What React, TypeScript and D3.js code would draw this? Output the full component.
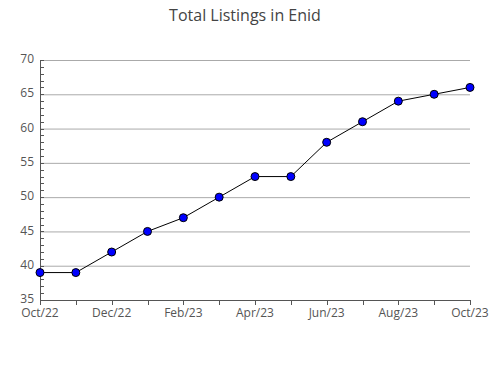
import React from "react";
import * as d3 from "d3";

const months = ["Oct/22","Nov/22","Dec/22","Jan/23","Feb/23","Mar/23","Apr/23","May/23","Jun/23","Jul/23","Aug/23","Sep/23","Oct/23"];
const listings = [39, 39, 42, 45, 47, 50, 53, 53, 58, 61, 64, 65, 66];
const yTicks = [35, 40, 45, 50, 55, 60, 65, 70];
const xLabelIdx = [0, 2, 4, 6, 8, 10, 12];

export default function App() {
  const W = 490, H = 380;
  const left = 40, right = 470, top = 60, bottom = 300;
  const x = d3.scaleLinear().domain([0, months.length - 1]).range([left, right]);
  const y = d3.scaleLinear().domain([35, 70]).range([bottom, top]);
  const line = d3.line<number>().x((_, i) => x(i)).y(d => y(d));
  const minor = d3.range(35, 71, 1);
  const font = "'Open Sans', 'Noto Sans', sans-serif";
  return (
    <svg width={W} height={H} style={{ position: "absolute", left: 0, top: 0 }}>
      <rect width={W} height={H} fill="#fff" />
      <text x={245} y={21} textAnchor="middle" fontFamily={font} fontSize={16} fill="#444">Total Listings in Enid</text>
      {yTicks.map(t => (
        <line key={"g" + t} x1={left} x2={right} y1={y(t) + 0.5} y2={y(t) + 0.5} stroke="#aaa" strokeWidth={1} />
      ))}
      {minor.map(t => (
        <line key={"m" + t} x1={left} x2={left + 4} y1={Math.round(y(t)) + 0.5} y2={Math.round(y(t)) + 0.5} stroke="#555" strokeWidth={1} />
      ))}
      <line x1={left + 0.5} x2={left + 0.5} y1={top} y2={bottom} stroke="#555" />
      <line x1={left} x2={right} y1={bottom + 0.5} y2={bottom + 0.5} stroke="#555" />
      {months.map((m, i) => (
        <line key={"xt" + i} x1={Math.round(x(i)) + 0.5} x2={Math.round(x(i)) + 0.5} y1={bottom} y2={bottom + 5} stroke="#555" />
      ))}
      {yTicks.map(t => (
        <text key={"yl" + t} x={left - 6} y={y(t) - 1} dy="0.35em" textAnchor="end" fontFamily={font} fontSize={12} fill="#555">{t}</text>
      ))}
      {xLabelIdx.map(i => (
        <text key={"xl" + i} x={x(i)} y={bottom + 17} textAnchor="middle" fontFamily={font} fontSize={12} fill="#555">{months[i]}</text>
      ))}
      <path d={line(listings) || ""} fill="none" stroke="#000" strokeWidth={1} />
      {listings.map((v, i) => (
        <circle key={"p" + i} cx={x(i)} cy={y(v)} r={4} fill="#0000ff" stroke="#000" strokeWidth={1} />
      ))}
    </svg>
  );
}
